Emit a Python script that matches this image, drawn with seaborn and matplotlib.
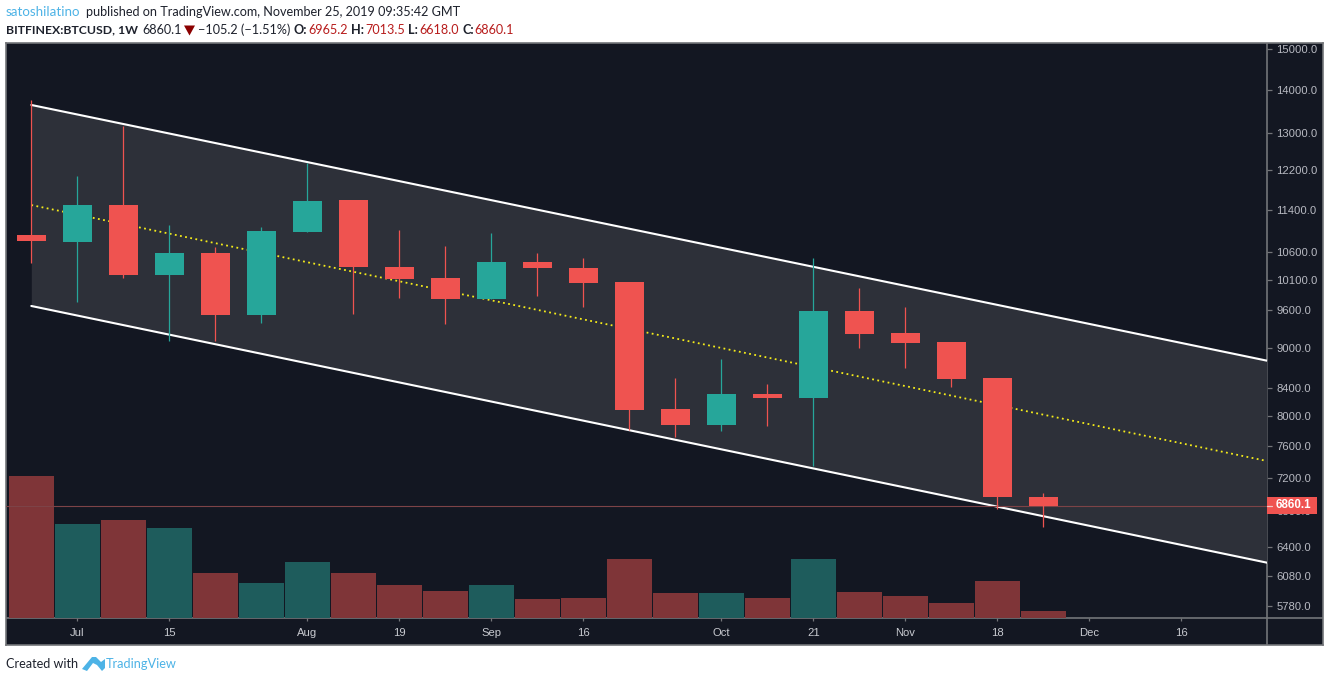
import numpy as np
import pandas as pd
import seaborn as sns
import matplotlib.pyplot as plt
from matplotlib.lines import Line2D
from matplotlib.patches import Polygon, Rectangle

W, H = 1330, 682

# Свечи BTCUSD, неделя
opens = [10916, 10785, 11490, 10191, 10585, 9516, 10972, 11590, 10332, 10140, 9782, 10422,
         10320, 10071, 8101, 7881, 8311, 8254, 9582, 9228, 9087, 8543, 6965.2]
closes = [10803, 11490, 10191, 10585, 9516, 10991, 11569, 10332, 10122, 9782, 10422, 10314,
          10053, 8087, 7881, 8311, 8254, 9582, 9212, 9070, 8529, 6967, 6860.1]
highs = [13757, 12079, 13157, 11103, 10693, 11066, 12348, 11590, 11010, 10712, 10953, 10585,
         10494, 10071, 8543, 8826, 8456, 10494, 9967, 9648, 9087, 8543, 7013.5]
lows = [10404, 9730, 10140, 9102, 9102, 9387, 10972, 9533, 9798, 9371, 9782, 9833,
        9648, 7813, 7722, 7800, 7868, 7347, 8994, 8691, 8412, 6825, 6618.0]
volumes = [142, 94, 98, 90, 45, 35, 56, 45, 33, 27, 33, 19, 20, 59, 25, 25, 20, 59, 26, 22, 15, 37, 7]

# Канал: начало и конец линий
channel_x = [0, 26.86]
channel_upper = [13640, 8800]
channel_mid = [11490, 7410]
channel_lower = [9665, 6225]

price_ticks = [15000, 14000, 13000, 12200, 11400, 10600, 10100, 9600, 9000, 8400, 8000, 7600, 7200, 6800, 6400, 6080, 5780]
time_pos = [1, 3, 6, 8, 10, 12, 15, 17, 19, 21, 23, 25]
time_labels = ['Jul', '15', 'Aug', '19', 'Sep', '16', 'Oct', '21', 'Nov', '18', 'Dec', '16']
last_price = 6860.1

BG = '#131722'
FRAME = '#737579'
UP = '#26a69a'
DOWN = '#ef5350'
TXT = '#b8bac2'

sns.set_theme(style='dark', rc={'axes.facecolor': BG, 'figure.facecolor': 'white'})
plt.rcParams['font.family'] = ['Liberation Sans', 'DejaVu Sans']

fig = plt.figure(figsize=(W / 100, H / 100), dpi=100)


def box(x0, y0, x1, y1):
    return [x0 / W, 1 - y1 / H, (x1 - x0) / W, (y1 - y0) / H]


# Рамка всего графика
back = fig.add_axes(box(6, 43, 1323, 645))
back.set_facecolor(BG)
back.set_xticks([])
back.set_yticks([])
for s in back.spines.values():
    s.set_color(FRAME)
    s.set_linewidth(1.2)
back.axvline((1267 - 6) / (1323 - 6), color=FRAME, lw=1.2)
back.axhline((645 - 618) / (645 - 43), color=FRAME, lw=1.2)

XLIM = (-0.55, 26.86)

# Объём
vol = fig.add_axes(box(6, 43, 1267, 618))
vol.patch.set_alpha(0)
df = pd.DataFrame({'x': np.arange(len(volumes)), 'v': volumes,
                   'dir': ['up' if c >= o else 'down' for o, c in zip(opens, closes)]})
sns.barplot(data=df, x='x', y='v', hue='dir', palette={'up': '#1e5c5c', 'down': '#7f3538'},
            dodge=False, native_scale=True, width=0.975, legend=False, saturation=1,
            linewidth=0, ax=vol)
vol.set_xlim(XLIM)
vol.set_ylim(0, 575)
vol.axis('off')

# Цена
ax = fig.add_axes(box(6, 43, 1267, 618))
ax.patch.set_alpha(0)
ax.set_yscale('log')
ax.set_xlim(XLIM)
ax.set_ylim(5662, 15168)

ax.fill_between(channel_x, channel_lower, channel_upper, color='#2d3039', lw=0, zorder=1)
sns.lineplot(x=channel_x, y=channel_upper, color='white', lw=1.5, ax=ax, zorder=2)
sns.lineplot(x=channel_x, y=channel_lower, color='white', lw=1.5, ax=ax, zorder=2)
ax.plot(channel_x, channel_mid, color='#f5ec1a', lw=1.3, ls=(0, (1, 1.9)), zorder=2)
ax.axhline(last_price, color='#7d4347', lw=0.8, zorder=2)

x = np.arange(len(opens))
colors = [UP if c >= o else DOWN for o, c in zip(opens, closes)]
wicks = ax.vlines(x, lows, highs, colors=colors, lw=0.9, zorder=3)
wicks.set_snap(True)
ax.bar(x, np.abs(np.array(closes) - np.array(opens)), bottom=np.minimum(opens, closes),
       width=0.63, color=colors, lw=0, zorder=4)

ax.grid(False)
for s in ax.spines.values():
    s.set_visible(False)
ax.minorticks_off()
ax.yaxis.tick_right()
ax.set_yticks(price_ticks)
ax.set_yticklabels([f'{p:.1f}' for p in price_ticks], color=TXT, fontsize=8.1)
ax.set_xticks(time_pos)
ax.set_xticklabels(time_labels, color='#c8cad0', fontsize=8.1)
ax.tick_params(axis='y', which='major', length=3.4, width=0.9, color=FRAME, right=True, pad=3.5)
ax.tick_params(axis='x', which='major', length=2.5, width=0.9, color=FRAME, bottom=True, pad=5)

# Подпись последней цены
fig.patches.append(Rectangle((1267 / W, 1 - 514 / H), 50 / W, 17 / H, transform=fig.transFigure,
                             fc=DOWN, ec='none'))
fig.add_artist(Line2D([1267 / W, 1272 / W], [1 - 505.5 / H] * 2, color='#f5c6c6', lw=0.9))
fig.text(1276 / W, 1 - 505.5 / H, f'{last_price:.1f}', color='white', fontsize=8.3, fontweight='bold',
         va='center', ha='left')


def label(px, py, s, color='#1e222d', weight='normal', size=9.05):
    fig.text(px / W, 1 - py / H, s, color=color, fontweight=weight, fontsize=size, va='center', ha='left',
             family=['Lato', 'DejaVu Sans'])


BLUE = '#4db3e6'
RED = '#b71c1c'
label(6, 12.5, 'satoshilatino', BLUE, size=9.6)
label(86, 12.5, 'published on TradingView.com, November 25, 2019 09:35:42 GMT')
label(6, 29.5, 'BITFINEX:BTCUSD, 1W', weight='bold', size=8.8)
label(142, 29.5, '6860.1')
label(198, 29.5, '\u2212105.2 (\u22121.51%)')
for px, s in [(294, 'O:'), (351, 'H:'), (408, 'L:'), (462, 'C:')]:
    label(px, 29.5, s, weight='bold')
for px, s in [(308, '6965.2'), (365, '7013.5'), (419, '6618.0'), (474, '6860.1')]:
    label(px, 29.5, s, RED)
fig.patches.append(Polygon([(184 / W, 1 - 25.5 / H), (195 / W, 1 - 25.5 / H), (189.5 / W, 1 - 35.5 / H)],
                           transform=fig.transFigure, fc='#8b0000', ec='none'))

label(6, 664, 'Created with')
label(106, 664, 'TradingView', BLUE, size=9.2)
logo = [(82, 669), (92, 657), (96, 657), (101, 662), (105, 659), (105, 668), (102, 671), (97, 665), (93, 663), (87, 671)]
fig.patches.append(Polygon([(a / W, 1 - b / H) for a, b in logo], transform=fig.transFigure, fc=BLUE, ec='none'))

fig.savefig('out.png', dpi=100)
